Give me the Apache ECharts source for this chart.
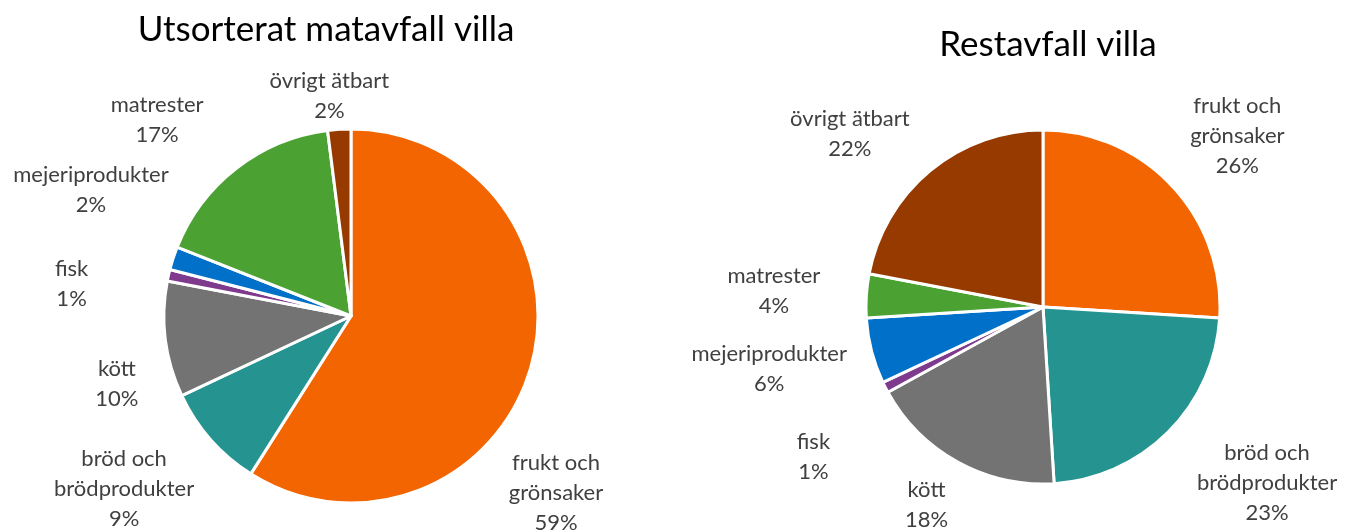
<!DOCTYPE html>
<html>
<head>
<meta charset="utf-8">
<script src="https://cdn.jsdelivr.net/npm/echarts@6/dist/echarts.min.js"></script>
<style>
  html, body { margin: 0; padding: 0; background: #fff; }
  #chart { width: 1355px; height: 530px; }
</style>
</head>
<body>
<div id="chart"></div>
<script>
// category names (line breaks as in the original labels)
const categories = [
  "frukt och\ngrönsaker",
  "bröd och\nbrödprodukter",
  "kött",
  "fisk",
  "mejeriprodukter",
  "matrester",
  "övrigt ätbart"
];
const colors = ["#F26500", "#259490", "#737373", "#7E3B8D", "#0070C8", "#4BA233", "#963A00"];

// percent shares
const sorteratValues = [59, 9, 10, 1, 2, 17, 2];
const restValues = [26, 23, 18, 1, 6, 4, 22];

const titles = ["Utsorterat matavfall villa", "Restavfall villa"];

// label nudges (px) so the labels sit where the original placed them
const sorteratNudge = [[-52, 120], [10, 37], [-4, 23], [-50, -23], [12, -63], [0, -45], [64, -15]];
const restNudge = [[-8, -38], [3, 38], [12, 27], [-38, 47], [1, 13], [-20, -4], [4, -23]];

const FONT = "Lato";

function buildData(values) {
  return categories.map((name, i) => ({
    name: name,
    value: values[i],
    itemStyle: { color: colors[i] }
  }));
}

function pieSeries(values, center, radius) {
  return {
    type: "pie",
    center: center,
    radius: radius,
    startAngle: 90,
    clockwise: true,
    avoidLabelOverlap: true,
    itemStyle: { borderColor: "#fff", borderWidth: 3 },
    emphasis: { disabled: true },
    label: {
      show: true,
      position: "outside",
      overflow: "none",
      formatter: p => "{a|" + p.name + "}\n{a|" + p.value + "%}",
      rich: {
        a: { fontFamily: FONT, fontSize: 22, lineHeight: 30, color: "#404040", align: "center" }
      }
    },
    labelLine: { show: false, length: 18, length2: 8 },
    data: buildData(values)
  };
}

const nudges = [sorteratNudge, restNudge];

const chart = echarts.init(document.getElementById("chart"));
chart.setOption({
  backgroundColor: "#fff",
  animation: false,
  title: [
    {
      text: titles[0], left: 321, top: 7, textAlign: "center",
      textStyle: { fontFamily: FONT, fontSize: 35, fontWeight: "normal", color: "#000" }
    },
    {
      text: titles[1], left: 1043, top: 22, textAlign: "center",
      textStyle: { fontFamily: FONT, fontSize: 35, fontWeight: "normal", color: "#000" }
    }
  ],
  series: [
    pieSeries(sorteratValues, [351, 316], 187),
    pieSeries(restValues, [1043, 307], 177)
  ].map((s, k) => Object.assign(s, {
    labelLayout: p => ({ dx: nudges[k][p.dataIndex][0], dy: nudges[k][p.dataIndex][1] })
  }))
});
</script>
</body>
</html>
